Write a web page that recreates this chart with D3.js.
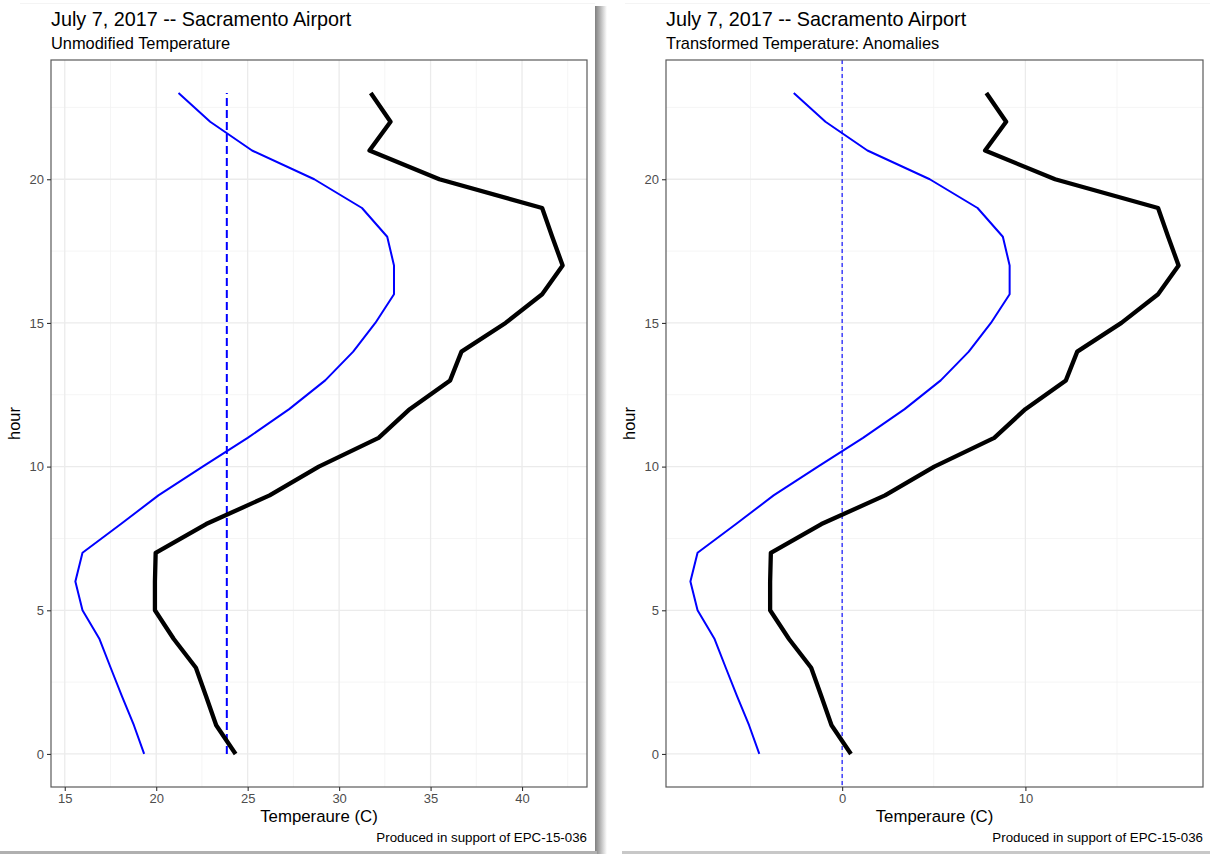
<!DOCTYPE html>
<html>
  <head>
    <meta charset="utf-8" />
    <title>Sacramento Airport</title>
    <script src="https://d3js.org/d3.v7.min.js"></script>
    <style>
        body {
            margin: 0;
            background: #fff;
        }
        text {
            font-family: "Liberation Sans", Arial, sans-serif;
        }
    </style>
  </head>
  <body>
    <svg id="chart"></svg>

    <script>
        // data
        var hours = [0, 1, 2, 3, 4, 5, 6, 7, 8, 9, 10, 11, 12, 13, 14, 15, 16, 17, 18, 19, 20, 21, 22, 23];
        var observed = [24.34, 23.28, 22.73, 22.17, 20.96, 19.93, 19.93, 19.97, 22.73, 26.2, 28.89, 32.16,
                        33.86, 36.07, 36.69, 39.1, 41.1, 42.22, 41.65, 41.1, 35.48, 31.66, 32.81, 31.73];
        var climate = [19.34, 18.78, 18.13, 17.51, 16.9, 15.97, 15.58, 15.97, 18.07, 20.12, 22.54, 25.0,
                       27.27, 29.24, 30.77, 31.98, 33.0, 33.0, 32.63, 31.25, 28.64, 25.24, 22.95, 21.22];
        var meanTemp = 23.86;
        var yTicks = [0, 5, 10, 15, 20];
        var leftXTicks = [15, 20, 25, 30, 35, 40];
        var rightXTicks = [0, 10];

        var width = 1210, height = 854;
        var svg = d3.select("#chart").attr("width", width).attr("height", height);

        // shadow behind the left picture
        var defs = svg.append("defs");
        var grad = defs.append("linearGradient").attr("id", "shadowR");
        grad.append("stop").attr("offset", "0%").attr("stop-color", "#808080");
        grad.append("stop").attr("offset", "40%").attr("stop-color", "#b0b0b0");
        grad.append("stop").attr("offset", "100%").attr("stop-color", "#fff");
        svg.append("rect").attr("x", 595).attr("y", 6).attr("width", 12).attr("height", 848)
            .attr("fill", "url(#shadowR)");
        svg.append("rect").attr("x", 0).attr("y", 851).attr("width", 597).attr("height", 3)
            .attr("fill", "#b0b0b0");
        svg.append("rect").attr("x", 622).attr("y", 851).attr("width", 588).attr("height", 3)
            .attr("fill", "#c8c8c8");
        svg.append("rect").attr("x", 0).attr("y", 0).attr("width", 595).attr("height", 851).attr("fill", "#fff");
        svg.append("line").attr("x1", 20).attr("x2", 595).attr("y1", 3.5).attr("y2", 3.5)
            .attr("stroke", "#f4f4f4");
        svg.append("line").attr("x1", 625).attr("x2", 1210).attr("y1", 3.5).attr("y2", 3.5)
            .attr("stroke", "#f4f4f4");

        var yDomain = [0 - 23 * 0.05, 23 + 23 * 0.05];

        function panel(opts) {
            var g = svg.append("g");
            var left = opts.left, right = opts.right, top = 60, bottom = 787;
            var shift = opts.shift;

            var obs = observed.map(function(v) { return v - shift; });
            var clim = climate.map(function(v) { return v - shift; });
            var lo = d3.min(clim.concat(obs)), hi = d3.max(clim.concat(obs));
            var pad = (hi - lo) * 0.05;

            var x = d3.scaleLinear().domain([lo - pad, hi + pad]).range([left, right]);
            var y = d3.scaleLinear().domain(yDomain).range([bottom, top]);

            // grid
            var minorX = [];
            for (var i = 0; i < opts.xTicks.length; i++) {
                minorX.push(opts.xTicks[i] - opts.step / 2);
            }
            minorX.push(opts.xTicks[opts.xTicks.length - 1] + opts.step / 2);
            minorX = minorX.filter(function(v) { return v > x.domain()[0] && v < x.domain()[1]; });
            var minorY = [2.5, 7.5, 12.5, 17.5, 22.5];

            g.selectAll(".minx").data(minorX).enter().append("line")
                .attr("x1", x).attr("x2", x).attr("y1", top).attr("y2", bottom)
                .attr("stroke", "#f2f2f2").attr("stroke-width", 0.8);
            g.selectAll(".miny").data(minorY).enter().append("line")
                .attr("y1", y).attr("y2", y).attr("x1", left).attr("x2", right)
                .attr("stroke", "#f2f2f2").attr("stroke-width", 0.8);
            g.selectAll(".majx").data(opts.xTicks).enter().append("line")
                .attr("x1", x).attr("x2", x).attr("y1", top).attr("y2", bottom)
                .attr("stroke", "#ebebeb").attr("stroke-width", 1.3);
            g.selectAll(".majy").data(yTicks).enter().append("line")
                .attr("y1", y).attr("y2", y).attr("x1", left).attr("x2", right)
                .attr("stroke", "#ebebeb").attr("stroke-width", 1.3);

            // reference line
            if (opts.full) {
                g.append("line")
                    .attr("x1", x(0)).attr("x2", x(0)).attr("y1", top).attr("y2", bottom)
                    .attr("stroke", "#0000ff").attr("stroke-width", 1.1)
                    .attr("stroke-dasharray", "4,3");
            } else {
                g.append("line")
                    .attr("x1", x(meanTemp)).attr("x2", x(meanTemp))
                    .attr("y1", y(hours[0])).attr("y2", y(hours[hours.length - 1]))
                    .attr("stroke", "#0000ff").attr("stroke-width", 2)
                    .attr("stroke-dasharray", "8,4");
            }

            var line = d3.line()
                .x(function(d) { return x(d[0]); })
                .y(function(d) { return y(d[1]); });

            g.append("path")
                .datum(hours.map(function(h, i) { return [clim[i], h]; }))
                .attr("d", line).attr("fill", "none")
                .attr("stroke", "#0000ff").attr("stroke-width", 2)
                .attr("stroke-linejoin", "round");
            g.append("path")
                .datum(hours.map(function(h, i) { return [obs[i], h]; }))
                .attr("d", line).attr("fill", "none")
                .attr("stroke", "#000").attr("stroke-width", 4.3)
                .attr("stroke-linejoin", "round");

            // border
            g.append("rect").attr("x", left).attr("y", top)
                .attr("width", right - left).attr("height", bottom - top)
                .attr("fill", "none").attr("stroke", "#5a5a5a").attr("stroke-width", 1.2);

            // axes
            var xAxis = d3.axisBottom(x).tickValues(opts.xTicks).tickSize(4).tickPadding(3);
            var gx = g.append("g").attr("transform", "translate(0," + bottom + ")").call(xAxis);
            var yAxis = d3.axisLeft(y).tickValues(yTicks).tickSize(4).tickPadding(3);
            var gy = g.append("g").attr("transform", "translate(" + left + ",0)").call(yAxis);
            [gx, gy].forEach(function(a) {
                a.select(".domain").remove();
                a.selectAll(".tick line").attr("stroke", "#333").attr("stroke-width", 1.1);
                a.selectAll(".tick text").attr("fill", "#4d4d4d")
                    .style("font-size", "13px").style("font-family", "Liberation Sans, Arial, sans-serif");
            });

            g.append("text").attr("x", left).attr("y", 26)
                .style("font-size", "19.8px").attr("fill", "#000")
                .text("July 7, 2017 -- Sacramento Airport");
            g.append("text").attr("x", left).attr("y", 49)
                .style("font-size", "16.4px").attr("fill", "#000")
                .text(opts.subtitle);
            g.append("text").attr("x", (left + right) / 2).attr("y", 822)
                .attr("text-anchor", "middle")
                .style("font-size", "16.8px").attr("fill", "#000")
                .text("Temperaure (C)");
            g.append("text")
                .attr("transform", "translate(" + (left - 31) + "," + ((top + bottom) / 2) + ") rotate(-90)")
                .attr("text-anchor", "middle")
                .style("font-size", "16.4px").attr("fill", "#000")
                .text("hour");
            g.append("text").attr("x", right).attr("y", 842)
                .attr("text-anchor", "end")
                .style("font-size", "13.3px").attr("fill", "#000")
                .text("Produced in support of EPC-15-036");
        }

        panel({ left: 51, right: 587, shift: 0, xTicks: leftXTicks, step: 5,
                subtitle: "Unmodified Temperature", full: false });
        panel({ left: 666, right: 1203, shift: meanTemp, xTicks: rightXTicks, step: 10,
                subtitle: "Transformed Temperature: Anomalies", full: true });
    </script>
  </body>
</html>
